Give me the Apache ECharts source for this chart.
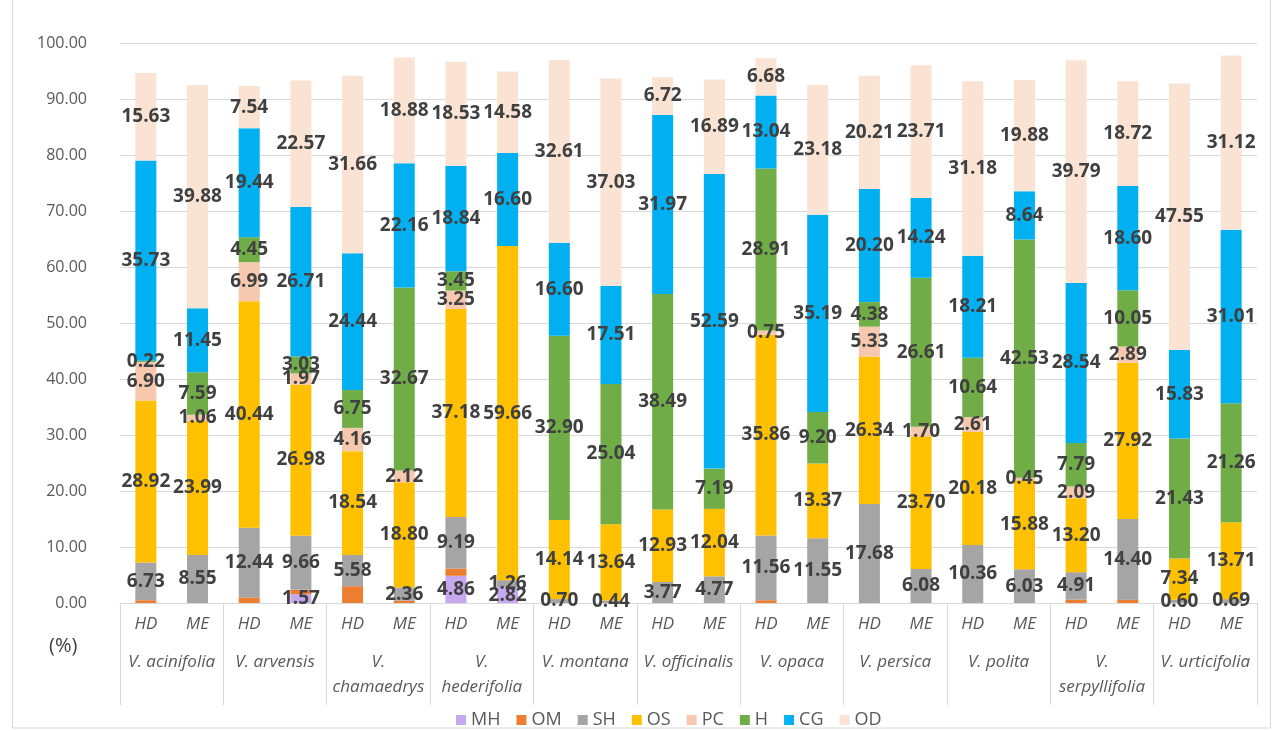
<!DOCTYPE html>
<html>
<head>
<meta charset="utf-8">
<script src="https://cdn.jsdelivr.net/npm/echarts@6/dist/echarts.min.js"></script>
<style>
html,body{margin:0;padding:0;background:#fff;}
#chart{width:1274px;height:731px;}
</style>
</head>
<body>
<div id="chart"></div>
<script>
// Categories
var methods = ['HD','ME','HD','ME','HD','ME','HD','ME','HD','ME','HD','ME','HD','ME','HD','ME','HD','ME','HD','ME','HD','ME'];
var species = ['V. acinifolia','V. arvensis','V.\nchamaedrys','V.\nhederifolia','V. montana','V. officinalis','V. opaca','V. persica','V. polita','V.\nserpyllifolia','V. urticifolia'];
var yTicks = [0,10,20,30,40,50,60,70,80,90,100];

// Series values (bottom to top)
var MH = [0,0, 0,1.57, 0,0, 4.86,2.82, 0,0, 0,0, 0,0, 0,0, 0,0, 0,0, 0,0];
var OM = [0.5,0, 1.0,0.8, 3.0,0.4, 1.3,0, 0,0, 0,0, 0.5,0, 0,0, 0,0, 0.6,0.6, 0,0];
var SH = [6.73,8.55, 12.44,9.66, 5.58,2.36, 9.19,1.26, 0.70,0.44, 3.77,4.77, 11.56,11.55, 17.68,6.08, 10.36,6.03, 4.91,14.40, 0.60,0.69];
var OS = [28.92,23.99, 40.44,26.98, 18.54,18.80, 37.18,59.66, 14.14,13.64, 12.93,12.04, 35.86,13.37, 26.34,23.70, 20.18,15.88, 13.20,27.92, 7.34,13.71];
var PC = [6.90,1.06, 6.99,1.97, 4.16,2.12, 3.25,0, 0,0, 0,0, 0.75,0, 5.33,1.70, 2.61,0.45, 2.09,2.89, 0,0];
var H  = [0.22,7.59, 4.45,3.03, 6.75,32.67, 3.45,0, 32.90,25.04, 38.49,7.19, 28.91,9.20, 4.38,26.61, 10.64,42.53, 7.79,10.05, 21.43,21.26];
var CG = [35.73,11.45, 19.44,26.71, 24.44,22.16, 18.84,16.60, 16.60,17.51, 31.97,52.59, 13.04,35.19, 20.20,14.24, 18.21,8.64, 28.54,18.60, 15.83,31.01];
var OD = [15.63,39.88, 7.54,22.57, 31.66,18.88, 18.53,14.58, 32.61,37.03, 6.72,16.89, 6.68,23.18, 20.21,23.71, 31.18,19.88, 39.79,18.72, 47.55,31.12];

var seriesNames = ['MH','OM','SH','OS','PC','H','CG','OD'];
var seriesData = [MH, OM, SH, OS, PC, H, CG, OD];
var colors = ['#C7A8EE','#ED7D31','#A5A5A5','#FFC000','#F6C9AE','#70AD47','#00B0F0','#FBE3D3'];
var labelled = [true, false, true, true, true, true, true, true];

var chart = echarts.init(document.getElementById('chart'));

var series = seriesNames.map(function (name, i) {
  return {
    name: name,
    type: 'bar',
    stack: 'total',
    barWidth: 21,
    xAxisIndex: 0,
    data: seriesData[i],
    itemStyle: { color: colors[i] },
    label: {
      show: labelled[i],
      position: 'inside',
      color: '#404040',
      fontFamily: 'Open Sans',
      fontWeight: 'bold',
      fontSize: 19,
      textBorderWidth: 0,
      formatter: function (p) { return p.value > 0 ? p.value.toFixed(2) : ''; }
    },
    emphasis: { disabled: true }
  };
});

chart.setOption({
  animation: false,
  color: colors,
  grid: { left: 120, right: 17, top: 43, bottom: 128 },
  legend: {
    data: seriesNames,
    left: 451,
    top: 706,
    icon: 'rect',
    itemWidth: 10,
    itemHeight: 10,
    itemGap: 16,
    textStyle: { color: '#595959', fontSize: 18, fontFamily: 'Open Sans' }
  },
  xAxis: [
    {
      type: 'category',
      data: methods,
      position: 'bottom',
      axisLine: { show: true, lineStyle: { color: '#D9D9D9', width: 1 } },
      axisTick: { show: false },
      axisLabel: {
        interval: 0,
        margin: 13,
        color: '#595959',
        fontStyle: 'italic',
        fontSize: 17,
        fontFamily: 'Open Sans'
      }
    },
    {
      type: 'category',
      data: species,
      position: 'bottom',
      axisLine: { show: false },
      axisTick: { show: true, length: 102, interval: 0, lineStyle: { color: '#D9D9D9' } },
      axisLabel: {
        interval: 0,
        margin: 47,
        color: '#595959',
        fontStyle: 'italic',
        fontSize: 17,
        lineHeight: 25,
        fontFamily: 'Open Sans'
      }
    }
  ],
  yAxis: {
    type: 'value',
    min: yTicks[0],
    max: yTicks[yTicks.length - 1],
    interval: 10,
    axisLine: { show: false },
    axisTick: { show: false },
    splitLine: { lineStyle: { color: '#D9D9D9', width: 1 } },
    axisLabel: {
      margin: 33,
      color: '#595959',
      fontSize: 16,
      fontFamily: 'Open Sans',
      formatter: function (v) { return v.toFixed(2); }
    }
  },
  graphic: [
    {
      type: 'text',
      left: 49,
      top: 636,
      style: { text: '(%)', fill: '#404040', fontSize: 20, fontFamily: 'Open Sans' }
    },
    {
      type: 'rect',
      shape: { x: 12.5, y: -2, width: 1258, height: 730 },
      style: { fill: 'none', stroke: '#D9D9D9', lineWidth: 1 },
      silent: true
    }
  ],
  series: series
});
</script>
</body>
</html>
